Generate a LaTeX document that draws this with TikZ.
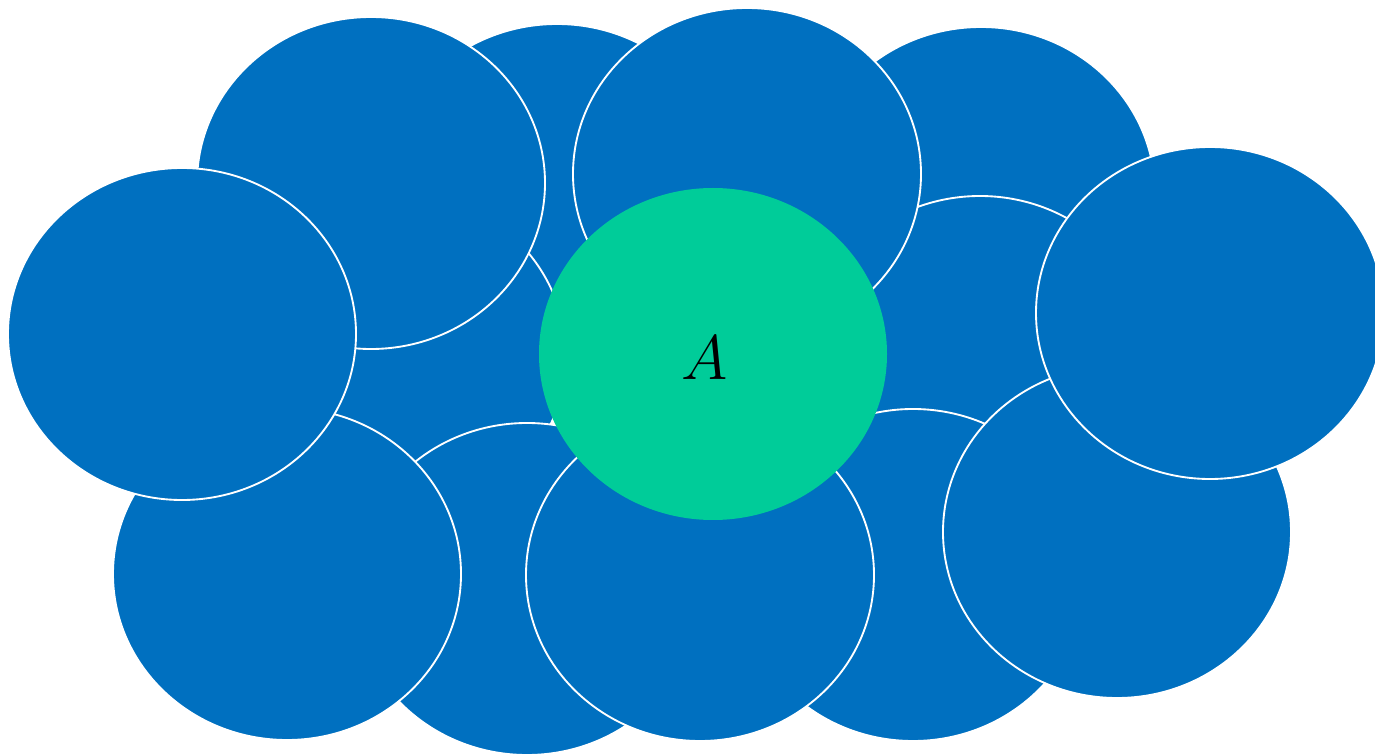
\documentclass[tikz,border=0pt]{standalone}
\usetikzlibrary{shapes.geometric}
\definecolor{cblue}{RGB}{0,112,192}
\definecolor{cgreen}{RGB}{0,204,153}
\begin{document}
\begin{tikzpicture}[x=0.75pt,y=-0.75pt,
  blob/.style={ellipse,fill=cblue,draw=white,line width=1.4pt,
    minimum width=261pt,minimum height=249pt,inner sep=0pt,outer sep=0pt},
  core/.style={ellipse,fill=cgreen,draw=none,
    minimum width=261pt,minimum height=249pt,inner sep=0pt,outer sep=0pt}]
\useasboundingbox (0,0) rectangle (1375,755);
\clip (0,0) rectangle (1375,755);
\node[blob] (e1)  at (557,190) {};
\node[blob] (e2)  at (981,193) {};
\node[blob] (e3)  at (392,356) {};
\node[blob] (e4)  at (980,362) {};
\node[blob] (e5)  at (371,183) {};
\node[blob] (e6)  at (747,174) {};
\node[blob] (e7)  at (527,589) {};
\node[blob] (e8)  at (913,575) {};
\node[blob] (e9)  at (287,574) {};
\node[blob] (e10) at (182,334) {};
\node[blob] (e11) at (700,575) {};
\node[blob] (e12) at (1117,532) {};
\node[blob] (e13) at (1210,313) {};
\node[core] (a) at (713,354) {};
\node[scale=1.9,inner sep=0pt] (lblA) at (705,358) {\Huge$A$};
\end{tikzpicture}
\end{document}
